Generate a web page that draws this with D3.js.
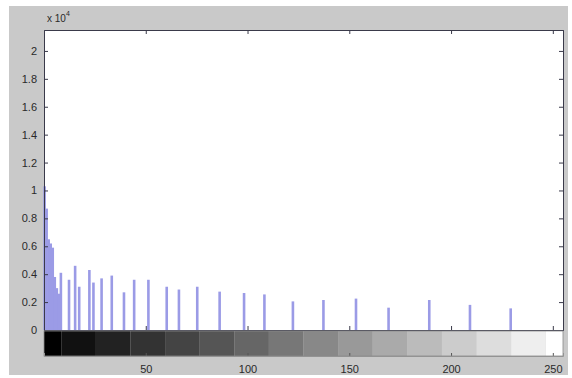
<!DOCTYPE html>
<html>
<head>
<meta charset="utf-8">
<script src="https://cdn.jsdelivr.net/npm/d3@7"></script>
<style>
  html, body { margin: 0; padding: 0; background: #ffffff; }
  text { font-family: "Liberation Sans", Arial, sans-serif; fill: #2a2a2a; }
</style>
</head>
<body>
<div id="chart"></div>
<script>
// histogram bins (gray level -> pixel count)
const binLevels = [0, 1, 2, 3, 4, 5, 6, 7, 8, 12, 15, 17, 22, 24, 28, 33, 39, 44, 51, 60, 66, 75, 86, 98, 108, 122, 137, 153, 169, 189, 209, 229];
const binCounts = [10300, 8700, 6500, 6200, 5900, 3800, 3000, 2600, 4100, 3600, 4600, 3100, 4300, 3400, 3700, 3900, 2700, 3600, 3600, 3100, 2900, 3100, 2750, 2650, 2550, 2050, 2150, 2250, 1600, 2150, 1800, 1550];

const xTicks = [50, 100, 150, 200, 250];
const yTicks = [0, 0.2, 0.4, 0.6, 0.8, 1, 1.2, 1.4, 1.6, 1.8, 2];
const yExponent = 4;

const W = 572, H = 378;
const box = { left: 44, right: 563, top: 30, bottom: 330 };
const bar = { top: 331, bottom: 356 };

const svg = d3.select('#chart').append('svg')
  .attr('width', W)
  .attr('height', H);

// figure background
svg.append('rect')
  .attr('x', 9).attr('y', 6)
  .attr('width', 559).attr('height', 369)
  .attr('fill', '#c9c9c9');

const x = d3.scaleLinear().domain([0, 255]).range([box.left, box.right]);
const y = d3.scaleLinear().domain([0, 2.15]).range([box.bottom, box.top]);

// plot area
svg.append('rect')
  .attr('x', box.left).attr('y', box.top)
  .attr('width', box.right - box.left).attr('height', box.bottom - box.top)
  .attr('fill', '#ffffff');

// stems
svg.append('g')
  .selectAll('rect')
  .data(binLevels.map((v, i) => ({ v, c: binCounts[i] })))
  .join('rect')
  .attr('x', d => x(d.v) - 0.7)
  .attr('y', d => y(d.c / 1e4))
  .attr('width', 2.6)
  .attr('height', d => y(0) - y(d.c / 1e4))
  .attr('fill', '#9b9be6');

// axes, ticks inside like matlab
const yLeft = d3.axisLeft(y).tickValues(yTicks).tickSize(-4).tickPadding(7)
  .tickFormat(d => d3.format('~g')(d));
const yRight = d3.axisRight(y).tickValues(yTicks).tickSize(-4).tickFormat('');
const xTop = d3.axisTop(x).tickValues(xTicks).tickSize(-4).tickFormat('');
const xBottom = d3.axisBottom(x).tickValues(xTicks).tickSize(-4).tickFormat('');

svg.append('g').attr('transform', `translate(${box.left},0)`).call(yLeft);
svg.append('g').attr('transform', `translate(${box.right},0)`).call(yRight);
svg.append('g').attr('transform', `translate(0,${box.top})`).call(xTop);
svg.append('g').attr('transform', `translate(0,${box.bottom})`).call(xBottom);

svg.selectAll('.domain').attr('stroke', '#3a3a4a');
svg.selectAll('.tick line').attr('stroke', '#3a3a4a');
svg.selectAll('.tick text').attr('font-size', 11).attr('fill', '#2a2a2a');

// exponent label
const expo = svg.append('text').attr('x', 47).attr('y', 22).attr('font-size', 10);
expo.append('tspan').text('x 10');
expo.append('tspan').attr('dy', -6).attr('font-size', 7).text(yExponent);

// gray colorbar under the axes
const levels = d3.range(16);
const step = 255 / 15;
svg.append('g')
  .selectAll('rect')
  .data(levels)
  .join('rect')
  .attr('x', d => x(Math.max(0, d * step - step / 2)))
  .attr('y', bar.top)
  .attr('width', d => x(Math.min(255, d * step + step / 2)) - x(Math.max(0, d * step - step / 2)))
  .attr('height', bar.bottom - bar.top)
  .attr('fill', d => d3.rgb(d * step, d * step, d * step));

const cbAxis = d3.axisBottom(x).tickValues(xTicks).tickSize(-3).tickPadding(9);
svg.append('g').attr('transform', `translate(0,${bar.bottom})`).call(cbAxis)
  .call(g => g.select('.domain').attr('stroke', '#9a9a9a'))
  .call(g => g.selectAll('.tick line').attr('stroke', '#555'))
  .call(g => g.selectAll('.tick text').attr('font-size', 11).attr('fill', '#2a2a2a'));

svg.append('rect')
  .attr('x', box.left).attr('y', bar.top)
  .attr('width', box.right - box.left).attr('height', bar.bottom - bar.top)
  .attr('fill', 'none').attr('stroke', '#8a8a8a').attr('stroke-width', 0.8);
</script>
</body>
</html>
